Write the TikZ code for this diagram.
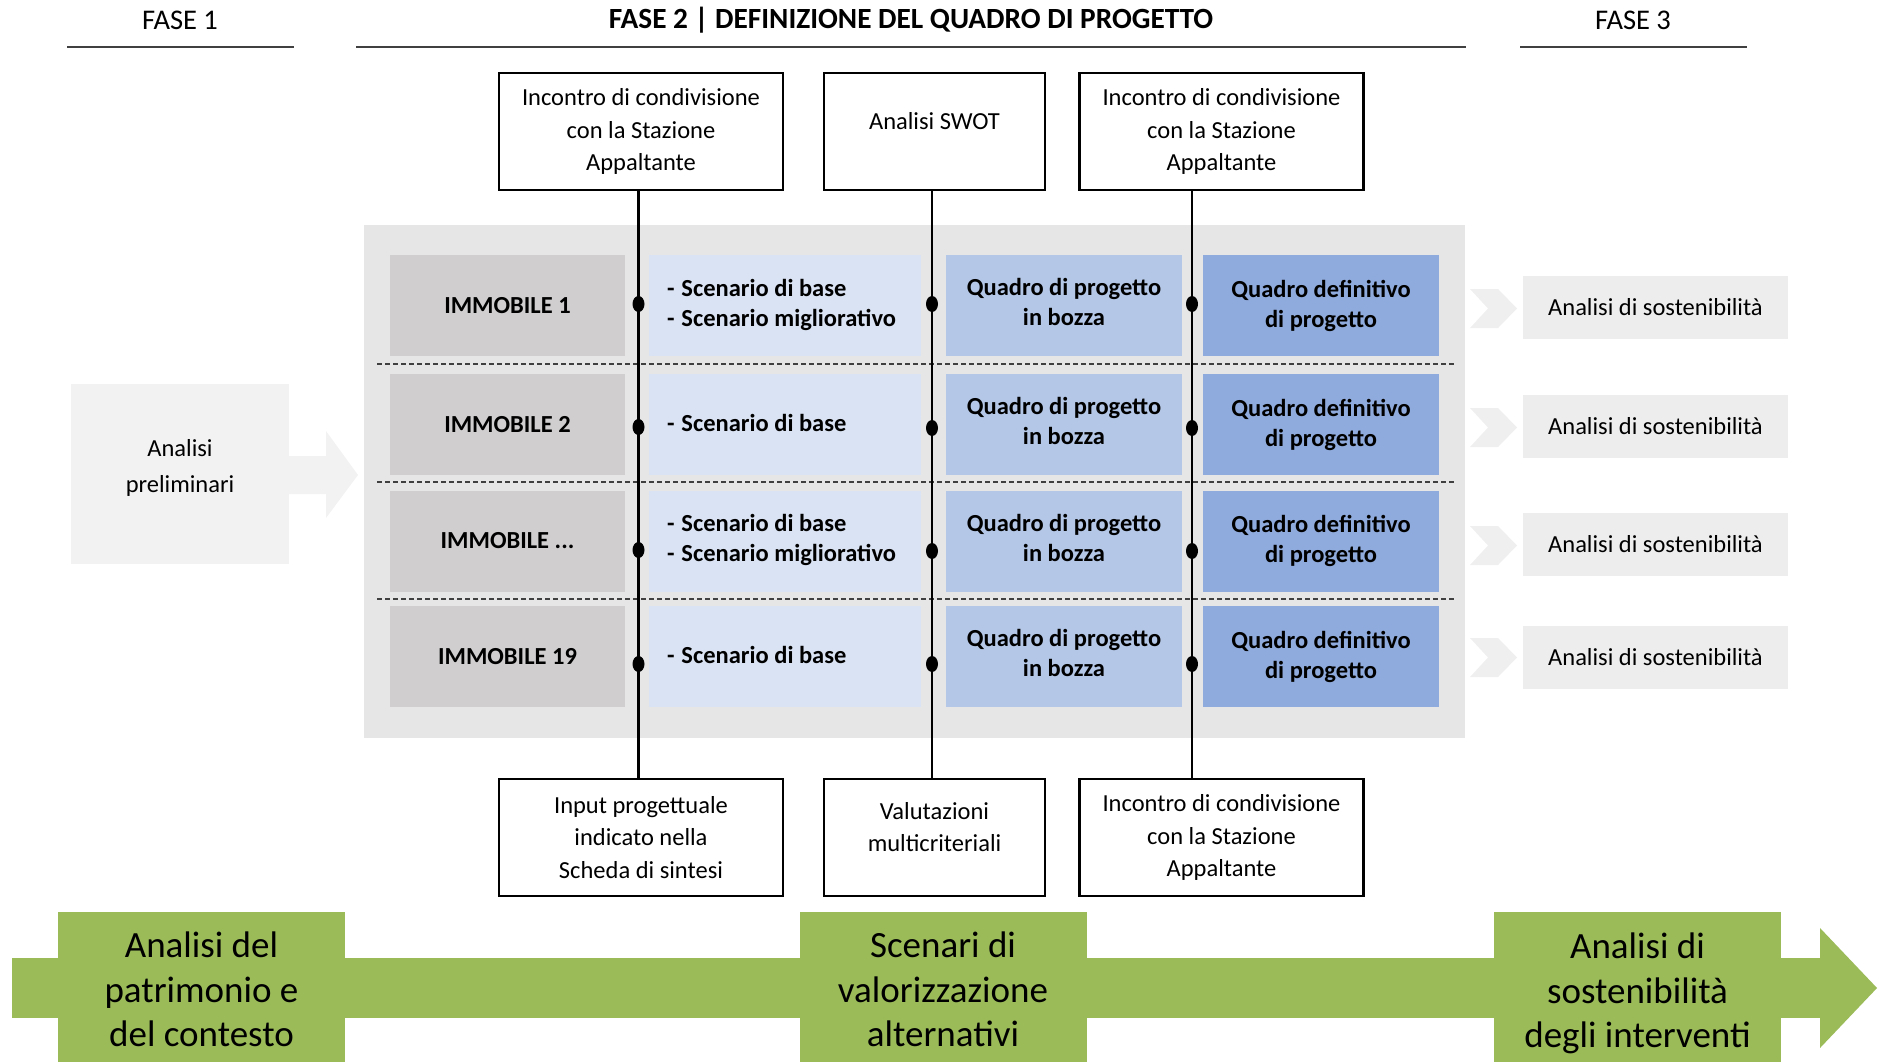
\documentclass[tikz,border=0pt]{standalone}
\usepackage{fontspec}
\setmainfont{Carlito}
\usetikzlibrary{shapes.geometric}
\definecolor{bigbg}{HTML}{E6E6E6}
\definecolor{immc}{HTML}{D0CECE}
\definecolor{scnc}{HTML}{DAE3F3}
\definecolor{bozc}{HTML}{B4C7E7}
\definecolor{defc}{HTML}{8FAADC}
\definecolor{prelc}{HTML}{F2F2F2}
\definecolor{sostc}{HTML}{EDEDED}
\definecolor{chevc}{HTML}{EFEFEF}
\definecolor{greenc}{HTML}{9BBB59}
\definecolor{linec}{HTML}{404040}
\begin{document}
\begin{tikzpicture}[x=1pt,y=-1pt,
  every node/.style={inner sep=0pt, outer sep=0pt},
  txt/.style={font=\fontsize{24.5}{32.5}\selectfont, align=center},
  btxt/.style={font=\fontsize{24.5}{30}\selectfont\bfseries, align=center},
  hdr/.style={font=\fontsize{28.5}{34}\selectfont},
  hline/.style={draw=linec, line width=1.4pt},
  wbox/.style={draw=black, line width=2.2pt, fill=white, txt, minimum height=117pt},
  wideb/.style={wbox, minimum width=284pt},
  narrowb/.style={wbox, minimum width=221pt},
  cellh/.style={minimum height=101pt, btxt},
  immcell/.style={cellh, fill=immc, minimum width=235pt},
  scncell/.style={cellh, fill=scnc, minimum width=272pt},
  bozcell/.style={cellh, fill=bozc, minimum width=236pt},
  defcell/.style={cellh, fill=defc, minimum width=236pt},
  sostbox/.style={fill=sostc, minimum width=265pt, minimum height=63pt, txt},
  greenbox/.style={fill=greenc, minimum width=287pt, minimum height=150pt},
  greentxt/.style={align=center, font=\fontsize{37}{44.5}\selectfont},
  dashl/.style={draw=linec, line width=1.3pt, dash pattern=on 5pt off 3pt},
  vline/.style={draw=black, line width=2.4pt},
  dotst/.style={ellipse, fill=black, minimum width=12pt, minimum height=16pt},
  chev/.style={fill=chevc}
]
\useasboundingbox (0,0) rectangle (1881,1062);

% ---------- headers ----------
\node[hdr] (h1) at (180,20) {FASE 1};
\node[hdr, font=\fontsize{29.3}{34}\selectfont\bfseries] (h2) at (911,20) {FASE 2 | DEFINIZIONE DEL QUADRO DI PROGETTO};
\node[hdr] (h3) at (1633,20) {FASE 3};
\draw[hline] (67,47) -- (294,47);
\draw[hline] (356,47) -- (1466,47);
\draw[hline] (1520,47) -- (1747,47);

% ---------- big background ----------
\fill[bigbg] (364,225) rectangle (1465,738);

% ---------- rows ----------
\node[immcell] (i1) at (507.5,305.5) {IMMOBILE 1};
\node[immcell] (i2) at (507.5,424.5) {IMMOBILE 2};
\node[immcell] (i3) at (507.5,541) {IMMOBILE ...};
\node[immcell] (i4) at (507.5,656.5) {IMMOBILE 19};

\node[scncell] (s1) at (785,305.5) {};
\node[scncell] (s2) at (785,424.5) {};
\node[scncell] (s3) at (785,541) {};
\node[scncell] (s4) at (785,656.5) {};
\node[btxt, align=left, anchor=west] (st1) at (667,304.5) {-\hspace{7pt}Scenario di base\\-\hspace{7pt}Scenario migliorativo};
\node[btxt, align=left, anchor=west] (st2) at (667,423) {-\hspace{7pt}Scenario di base};
\node[btxt, align=left, anchor=west] (st3) at (667,539.5) {-\hspace{7pt}Scenario di base\\-\hspace{7pt}Scenario migliorativo};
\node[btxt, align=left, anchor=west] (st4) at (667,655) {-\hspace{7pt}Scenario di base};

\node[bozcell] (b1) at (1064,305.5) {};
\node[bozcell] (b2) at (1064,424.5) {};
\node[bozcell] (b3) at (1064,541) {};
\node[bozcell] (b4) at (1064,656.5) {};
\node[btxt] (bt1) at (1064,302) {Quadro di progetto\\in bozza};
\node[btxt] (bt2) at (1064,421) {Quadro di progetto\\in bozza};
\node[btxt] (bt3) at (1064,537.5) {Quadro di progetto\\in bozza};
\node[btxt] (bt4) at (1064,653) {Quadro di progetto\\in bozza};

\node[defcell] (q1) at (1321,305.5) {Quadro definitivo\\di progetto};
\node[defcell] (q2) at (1321,424.5) {Quadro definitivo\\di progetto};
\node[defcell] (q3) at (1321,541) {Quadro definitivo\\di progetto};
\node[defcell] (q4) at (1321,656.5) {Quadro definitivo\\di progetto};

% dashed separators
\draw[dashl] (377,364) -- (1456,364);
\draw[dashl] (377,482) -- (1456,482);
\draw[dashl] (377,599) -- (1456,599);

% ---------- top and bottom boxes ----------
\node[wideb] (ta) at (641,131.5) {Incontro di condivisione\\con la Stazione\\Appaltante};
\node[narrowb] (tb) at (934.5,131.5) {};
\node[txt] (tbt) at (934.5,121) {Analisi SWOT};
\node[wideb] (tc) at (1221.5,131.5) {Incontro di condivisione\\con la Stazione\\Appaltante};

\node[wideb] (bd) at (641,837.5) {Input progettuale\\indicato nella\\Scheda di sintesi};
\node[narrowb] (be) at (934.5,837.5) {};
\node[txt] (bet) at (934.5,827) {Valutazioni\\multicriteriali};
\node[wideb] (bf) at (1221.5,837.5) {Incontro di condivisione\\con la Stazione\\Appaltante};

% vertical lines
\coordinate (l1) at (638.5,0);
\coordinate (l2) at (932,0);
\coordinate (l3) at (1192,0);
\draw[vline] (ta.south -| l1) -- (bd.north -| l1);
\draw[vline] (tb.south -| l2) -- (be.north -| l2);
\draw[vline] (tc.south -| l3) -- (bf.north -| l3);

% dots
\node[dotst] (d11) at (638.5,304) {};
\node[dotst] (d12) at (638.5,427) {};
\node[dotst] (d13) at (638.5,550) {};
\node[dotst] (d14) at (638.5,664) {};
\node[dotst] (d21) at (932,304) {};
\node[dotst] (d22) at (932,428) {};
\node[dotst] (d23) at (932,551) {};
\node[dotst] (d24) at (932,664) {};
\node[dotst] (d31) at (1192,304) {};
\node[dotst] (d32) at (1192,428) {};
\node[dotst] (d33) at (1192,551) {};
\node[dotst] (d34) at (1192,664) {};

% ---------- left: analisi preliminari ----------
\node[fill=prelc, minimum width=218pt, minimum height=180pt] (pre) at (180,474) {};
\node[txt, font=\fontsize{24.5}{36}\selectfont] (pret) at (180,467.5) {Analisi\\preliminari};
\fill[prelc] (pre.east |- 0,456) -- (326,456) -- (326,431) -- (358,475) -- (326,518) -- (326,494) -- (pre.east |- 0,494) -- cycle;

% ---------- right: chevrons + sostenibilita ----------
\foreach \cy in {308.5,427.5,545.5,657.5}{
  \fill[chev] (1470,\cy-19.5) -- (1498,\cy-19.5) -- (1517,\cy) -- (1498,\cy+19.5) -- (1470,\cy+19.5) -- (1488,\cy) -- cycle;
}
\node[sostbox] (a1) at (1655.5,307.5) {Analisi di sostenibilità};
\node[sostbox] (a2) at (1655.5,426) {Analisi di sostenibilità};
\node[sostbox] (a3) at (1655.5,544.5) {Analisi di sostenibilità};
\node[sostbox] (a4) at (1655.5,657.5) {Analisi di sostenibilità};

% ---------- green timeline ----------
\fill[greenc] (12,958) rectangle (1821,1018);
\fill[greenc] (1820,928) -- (1877,988) -- (1820,1048) -- cycle;
\node[greenbox] (g1) at (201.5,987) {};
\node[greenbox] (g2) at (943,987) {};
\node[greenbox] (g3) at (1637.5,987) {};
\node[greentxt] (gt1) at (201.5,989.5) {Analisi del\\patrimonio e\\del contesto};
\node[greentxt] (gt2) at (943,989.5) {Scenari di\\valorizzazione\\alternativi};
\node[greentxt] (gt3) at (1637.5,993.5) {Analisi di\\sostenibilità\\degli interventi};
\end{tikzpicture}
\end{document}
